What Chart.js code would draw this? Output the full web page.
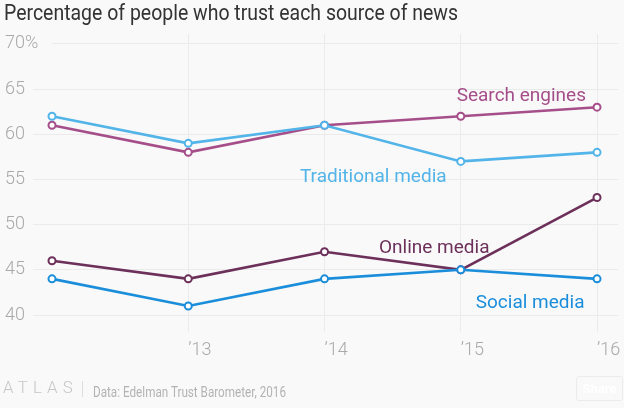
<!DOCTYPE html>
<html>
<head>
<meta charset="utf-8">
<script src="https://cdn.jsdelivr.net/npm/chart.js@4/dist/chart.umd.min.js"></script>
<style>
html,body{margin:0;padding:0;background:#f9f9f9;}
#wrap{position:relative;width:624px;height:408px;overflow:hidden;background:#f9f9f9;}
#c{position:absolute;left:0;top:0;}
.fit{position:absolute;white-space:nowrap;transform-origin:0 0;}
#title{left:4px;top:0px;font:400 22px Roboto,sans-serif;line-height:26px;color:#333;}
#atlas{left:3px;top:379px;font:300 16px Roboto,sans-serif;line-height:18px;letter-spacing:5px;color:#c6c6c6;}
#sep{position:absolute;left:82px;top:381px;width:1px;height:16px;background:#dedede;}
#source{left:93px;top:384px;font:400 14px Roboto,sans-serif;line-height:16px;color:#b3b3b3;}
#share{position:absolute;left:576px;top:376px;width:45px;height:23px;border:1px solid #ebebeb;border-radius:3px;
  font:700 13px Roboto,sans-serif;line-height:23px;text-align:center;color:#fff;box-sizing:content-box;}
</style>
</head>
<body>
<div id="wrap">
  <canvas id="c" width="624" height="408"></canvas>
  <div id="title" class="fit" data-w="454">Percentage of people who trust each source of news</div>
  <div id="atlas" class="fit" data-w="75">ATLAS</div>
  <div id="sep"></div>
  <div id="source" class="fit" data-w="193">Data: Edelman Trust Barometer, 2016</div>
  <div id="share">Share</div>
</div>
<script>
// ---- data ----
const years = [2012, 2013, 2014, 2015, 2016];
const xTickValues = [2013, 2014, 2015, 2016];
const xTickLabels = ["\u201913", "\u201914", "\u201915", "\u201916"];
const yTickValues = [40, 45, 50, 55, 60, 65, 70];
const searchEngines = [61, 58, 61, 62, 63];
const traditionalMedia = [62, 59, 61, 57, 58];
const onlineMedia = [46, 44, 47, 45, 53];
const socialMedia = [44, 41, 44, 45, 44];
const seriesNames = ["Social media", "Traditional media", "Online media", "Search engines"];

// fit html texts to widths
document.querySelectorAll('.fit').forEach(el => {
  const w = el.getBoundingClientRect().width;
  const t = parseFloat(el.dataset.w);
  if (w > 0) el.style.transform = 'scaleX(' + (t / w) + ')';
});

const colors = {
  "Social media": "#1b8edb",
  "Traditional media": "#52b4e8",
  "Online media": "#6c305a",
  "Search engines": "#a54e89"
};
const seriesData = {
  "Social media": socialMedia,
  "Traditional media": traditionalMedia,
  "Online media": onlineMedia,
  "Search engines": searchEngines
};

const datasets = seriesNames.map(name => ({
  label: name,
  data: years.map((yr, i) => ({x: yr, y: seriesData[name][i]})),
  borderColor: colors[name],
  backgroundColor: '#ffffff',
  pointBackgroundColor: '#ffffff',
  pointBorderColor: colors[name],
  pointRadius: 3.5,
  pointBorderWidth: 2,
  borderWidth: 2.6,
  tension: 0,
  clip: false
}));

// annotation anchor (data coords), left-aligned text, vertically centred
const labelAnchors = {
  "Search engines": [2014.97, 64.25],
  "Traditional media": [2013.82, 55.28],
  "Online media": [2014.40, 47.42],
  "Social media": [2015.11, 41.33]
};

const seriesLabelPlugin = {
  id: 'seriesLabels',
  afterDatasetsDraw(chart) {
    const ctx = chart.ctx;
    const xs = chart.scales.x, ys = chart.scales.y;
    ctx.save();
    ctx.font = '400 19px Roboto, sans-serif';
    ctx.textAlign = 'left';
    ctx.textBaseline = 'middle';
    Object.keys(labelAnchors).forEach(name => {
      const [vx, vy] = labelAnchors[name];
      ctx.fillStyle = colors[name];
      ctx.fillText(name, xs.getPixelForValue(vx), ys.getPixelForValue(vy));
    });
    ctx.restore();
  }
};

const gridColor = '#ebebeb';
new Chart(document.getElementById('c'), {
  type: 'line',
  data: {datasets},
  options: {
    responsive: false,
    animation: false,
    devicePixelRatio: 1,
    layout: {padding: {left: 5, right: 4, top: 34, bottom: 0}},
    plugins: {legend: {display: false}, title: {display: false}, tooltip: {enabled: false}},
    scales: {
      x: {
        type: 'linear',
        min: 2012,
        max: 2016.154,
        afterBuildTicks: s => { s.ticks = xTickValues.map(v => ({value: v})); },
        afterFit: s => { s.height = 93; s.paddingLeft = 0; s.paddingRight = 0; },
        border: {display: false},
        grid: {color: gridColor, tickColor: gridColor, tickLength: 17, lineWidth: 1},
        ticks: {
          align: 'start',
          padding: 8,
          maxRotation: 0,
          autoSkip: false,
          color: '#a9a9a9',
          font: {family: 'Roboto', size: 18, weight: 300},
          callback: v => xTickLabels[xTickValues.indexOf(v)]
        }
      },
      y: {
        type: 'linear',
        min: 40,
        max: 71.1,
        afterBuildTicks: s => { s.ticks = yTickValues.map(v => ({value: v})); },
        afterFit: s => { s.width = 47; s.paddingTop = 0; s.paddingBottom = 0; },
        border: {display: false},
        grid: {
          color: gridColor,
          tickLength: 19,
          tickColor: c => (c.tick && c.tick.value === 70) ? 'rgba(0,0,0,0)' : gridColor
        },
        ticks: {
          crossAlign: 'far',
          padding: 0,
          color: '#a9a9a9',
          font: {family: 'Roboto', size: 18, weight: 300},
          callback: v => v === 70 ? v + '%' : String(v)
        }
      }
    }
  },
  plugins: [seriesLabelPlugin]
});
</script>
</body>
</html>
